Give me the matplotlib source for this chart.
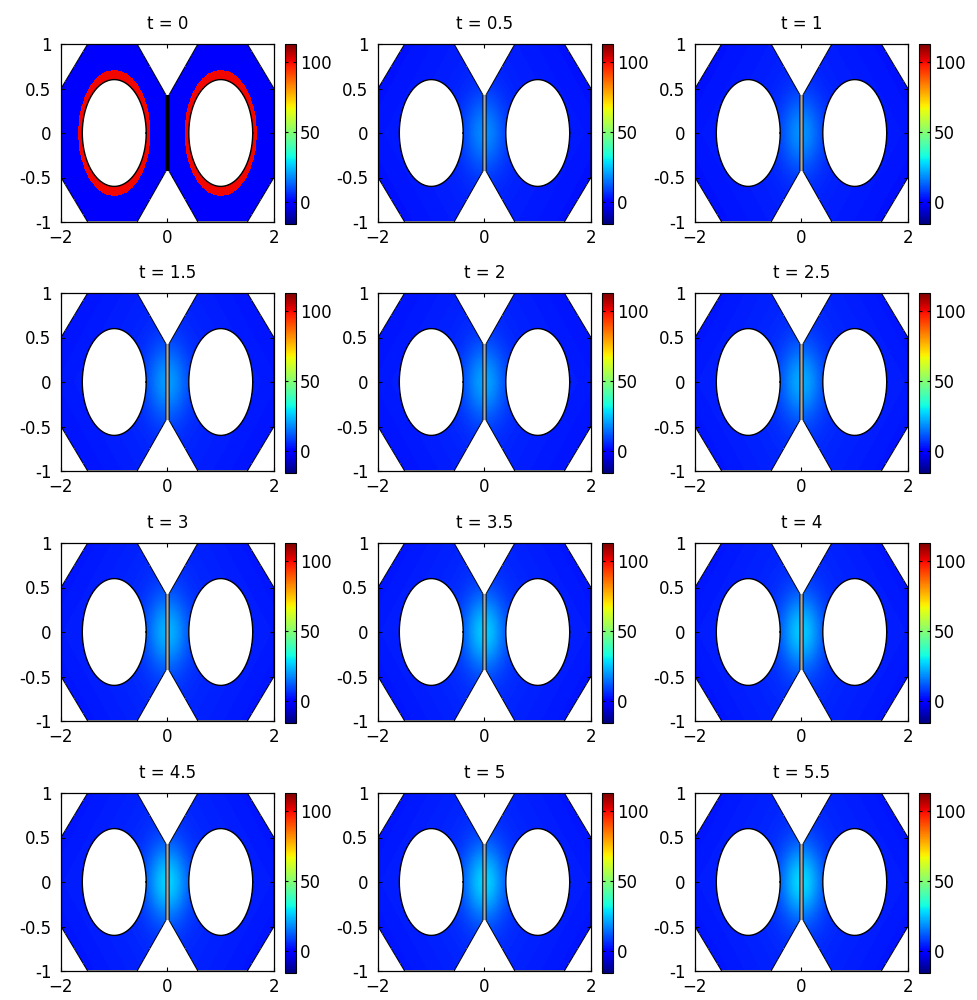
import numpy as np
import matplotlib
matplotlib.use("Agg")
import matplotlib.pyplot as plt
from matplotlib.path import Path
from matplotlib.patches import Rectangle

plt.rcParams['font.family'] = ['DejaVu Sans']

# Snapshot times and field levels for each panel
times = [0, 0.5, 1, 1.5, 2, 2.5, 3, 3.5, 4, 4.5, 5, 5.5]
ring_level = [100, 0, 0, 0, 0, 0, 0, 0, 0, 0, 0, 0]
base_level = [0, 5, 5, 5.5, 5.5, 6, 6, 6, 6, 6, 6, 6]
neck_level = [0, 17, 18, 19, 20, 21, 22, 25, 25, 26, 26, 27]

color_limits = (-16, 113)
cbar_ticks = [0, 50, 100]
x_ticks = [-2, 0, 2]
y_ticks = [-1, -0.5, 0, 0.5, 1]
y_tick_labels = ['-1', '-0.5', '0', '0.5', '1']

# Geometry: two octagonal lobes, each with a circular hole
hole_centers = [-1.0, 1.0]
hole_radius = 0.6
ring_outer = (0.68, 0.71)
neck_gap = 0.03
neck_height = 0.43


def lobe_vertices(side):
    # side = -1 for the left lobe, +1 for the right lobe
    pts = [(-2.0, -0.5), (-2.0, 0.5), (-1.5, 1.0), (-0.57, 1.0),
           (-neck_gap, neck_height), (-neck_gap, -neck_height),
           (-0.57, -1.0), (-1.5, -1.0)]
    return np.array([(-side * x, y) for x, y in pts])


nx, ny = 520, 260
xs = np.linspace(-2, 2, nx)
ys = np.linspace(-1, 1, ny)
X, Y = np.meshgrid(xs, ys)
pts = np.column_stack([X.ravel(), Y.ravel()])

inside = np.zeros(X.shape, dtype=bool)
for side in (-1, 1):
    inside |= Path(lobe_vertices(side)).contains_points(pts).reshape(X.shape)
R = np.full(X.shape, np.inf)
ring_mask = np.zeros(X.shape, dtype=bool)
for c in hole_centers:
    R = np.minimum(R, np.hypot(X - c, Y))
    ring_mask |= np.hypot((X - c) / ring_outer[0], Y / ring_outer[1]) <= 1.0
inside &= R >= hole_radius

cmap = plt.get_cmap('jet').copy()
cmap.set_bad('white')

fig = plt.figure(figsize=(9.78, 10.0), dpi=100)
W, H = 978.0, 1000.0
col_left = [61, 378, 695]
row_top = [44, 293, 543, 793]
ax_w, ax_h = 213, 178

theta = np.linspace(0, 2 * np.pi, 300)

for k, t in enumerate(times):
    r, c = divmod(k, 3)
    left = col_left[c] / W
    bottom = 1 - (row_top[r] + ax_h) / H
    ax = fig.add_axes([left, bottom, ax_w / W, ax_h / H])

    falloff = np.clip(1.15 - 0.55 * np.abs(np.abs(X) - 0.0) / 2.0
                      - 0.25 * np.abs(Y), 0.2, None)
    field = (base_level[k] * falloff
             + (neck_level[k] - base_level[k])
             * np.exp(-(X / 0.38) ** 2 - (Y / 0.42) ** 2))
    if ring_level[k] > 0:
        field = np.where(ring_mask, ring_level[k], field)
    field = np.ma.masked_where(~inside, field)

    im = ax.imshow(field, extent=(-2, 2, -1, 1), origin='lower', cmap=cmap,
                   vmin=color_limits[0], vmax=color_limits[1],
                   aspect='auto', interpolation='nearest')

    # narrow slit between the two lobes
    ax.add_patch(Rectangle((-neck_gap, -neck_height), 2 * neck_gap,
                           2 * neck_height,
                           facecolor='black' if k == 0 else '#a8a8a8',
                           edgecolor='none', zorder=2))

    for side in (-1, 1):
        v = lobe_vertices(side)
        v = np.vstack([v, v[:1]])
        ax.plot(v[:, 0], v[:, 1], color='black', lw=0.7, zorder=3)
    for hc in hole_centers:
        ax.plot(hc + hole_radius * np.cos(theta), hole_radius * np.sin(theta),
                color='black', lw=1.0, zorder=3)

    ax.set_xlim(-2, 2)
    ax.set_ylim(-1, 1)
    ax.set_xticks(x_ticks)
    ax.set_yticks(y_ticks)
    ax.set_yticklabels(y_tick_labels)
    ax.tick_params(direction='in', top=True, right=True, length=3,
                   labelsize=12, width=0.8)
    ax.tick_params(axis='x', pad=5)
    ax.tick_params(axis='y', pad=7)
    for s in ax.spines.values():
        s.set_linewidth(0.9)
        s.set_zorder(4)
    ax.set_title(f't = {t:g}', fontsize=12, pad=11)

    cax = fig.add_axes([(col_left[c] + ax_w + 11) / W, bottom - 2 / H,
                        11 / W, (ax_h + 2) / H])
    cb = fig.colorbar(im, cax=cax, ticks=cbar_ticks)
    cb.outline.set_linewidth(0.8)
    cax.tick_params(direction='in', length=2, labelsize=12, pad=3, left=True)

fig.savefig('out.png', dpi=100, facecolor='white')
